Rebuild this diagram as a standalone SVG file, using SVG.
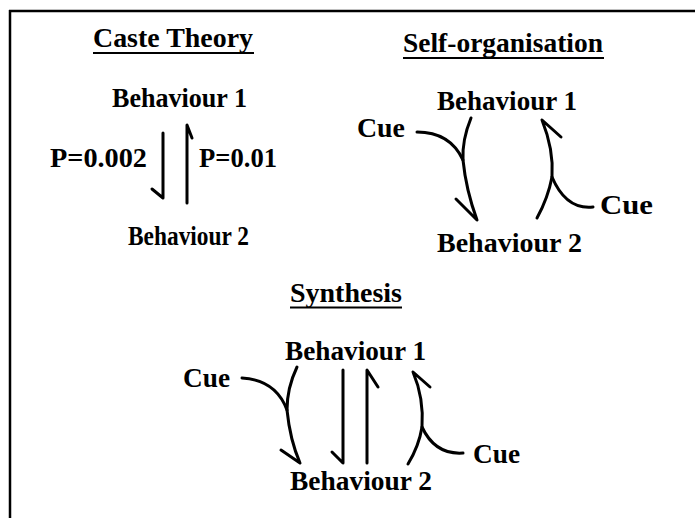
<svg xmlns="http://www.w3.org/2000/svg" width="695" height="518" viewBox="0 0 695 518">
<style>
text{font-family:"Liberation Serif","Times New Roman",serif;font-weight:bold;font-size:28px;fill:#000}
.t{font-size:27px}
.c{fill:none;stroke:#000;stroke-width:3;stroke-linecap:round;stroke-linejoin:round}
.u{stroke:#000;stroke-width:2}
</style>
<rect width="695" height="518" fill="#fff"/>
<g id="frame">
<line x1="9" y1="11" x2="695" y2="11" stroke="#000" stroke-width="2.5"/>
<line x1="10" y1="10" x2="10" y2="518" stroke="#000" stroke-width="2.5"/>
</g>
<g id="caste-title"><text class="t" x="93" y="47" textLength="160" lengthAdjust="spacingAndGlyphs">Caste Theory</text><line class="u" x1="93" y1="53" x2="254" y2="53"/></g>
<g id="caste-b1"><text x="112" y="107" textLength="135" lengthAdjust="spacingAndGlyphs">Behaviour 1</text></g>
<g id="caste-b2"><text x="128" y="245" textLength="121" lengthAdjust="spacingAndGlyphs">Behaviour 2</text></g>
<g id="caste-p1"><text x="50" y="167" textLength="97" lengthAdjust="spacingAndGlyphs">P=0.002</text></g>
<g id="caste-p2"><text x="199" y="167" textLength="78" lengthAdjust="spacingAndGlyphs">P=0.01</text></g>

<g id="self-title"><text class="t" x="403" y="52" textLength="200" lengthAdjust="spacingAndGlyphs">Self-organisation</text><line class="u" x1="403" y1="58" x2="604" y2="58"/></g>
<g id="self-b1"><text x="437" y="110" textLength="140" lengthAdjust="spacingAndGlyphs">Behaviour 1</text></g>
<g id="self-b2"><text x="437" y="252" textLength="145" lengthAdjust="spacingAndGlyphs">Behaviour 2</text></g>
<g id="self-cue1"><text x="357" y="137" textLength="48" lengthAdjust="spacingAndGlyphs">Cue</text></g>
<g id="self-cue2"><text x="600" y="214" textLength="53" lengthAdjust="spacingAndGlyphs">Cue</text></g>

<g id="syn-title"><text class="t" x="290" y="302" textLength="112" lengthAdjust="spacingAndGlyphs">Synthesis</text><line class="u" x1="290" y1="307.5" x2="402" y2="307.5"/></g>
<g id="syn-b1"><text x="285" y="360" textLength="141" lengthAdjust="spacingAndGlyphs">Behaviour 1</text></g>
<g id="syn-b2"><text x="290" y="490" textLength="142" lengthAdjust="spacingAndGlyphs">Behaviour 2</text></g>
<g id="syn-cue1"><text x="183" y="387" textLength="47" lengthAdjust="spacingAndGlyphs">Cue</text></g>
<g id="syn-cue2"><text x="473" y="463" textLength="47" lengthAdjust="spacingAndGlyphs">Cue</text></g>

<g id="connectors">
<path class="c" d="M163 133 V198 L152 189"/>
<path class="c" d="M187 203 V125 L192 138"/>
<path class="c" d="M471 118 Q462 140 463 160 Q466 190 477 220 L456 199"/>
<path class="c" d="M417 132 Q450 132 463 160"/>
<path class="c" d="M537 218 Q548 198 552 177 Q554 150 542 120 L561 137"/>
<path class="c" d="M593 207 Q566 210 552 177"/>
<path class="c" d="M297 367 Q287 388 287 410 Q290 440 300 463 L281 450"/>
<path class="c" d="M242 378 Q276 380 287 410"/>
<path class="c" d="M343 370 V463 L332 452"/>
<path class="c" d="M367 463 V370 L378 387"/>
<path class="c" d="M408 464 Q419 446 422 427 Q424 398 413 372 L430 387"/>
<path class="c" d="M463 453 Q435 455 422 427"/>
</g>
</svg>
